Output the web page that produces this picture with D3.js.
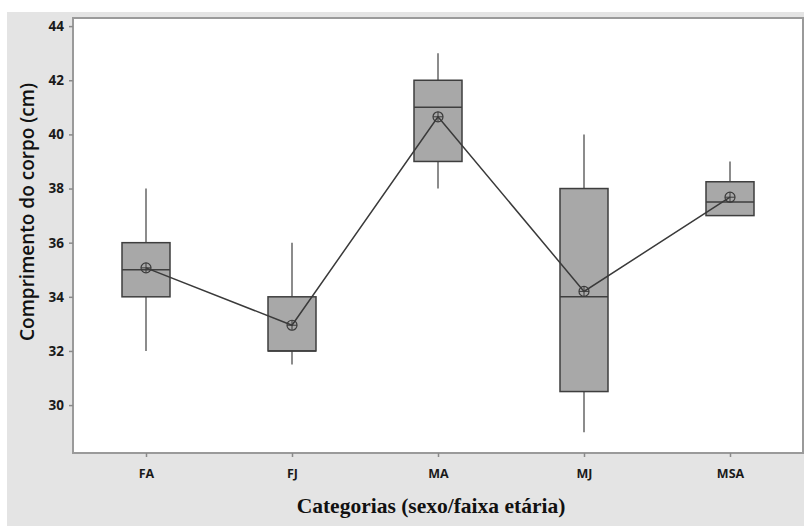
<!DOCTYPE html>
<html>
<head>
<meta charset="utf-8">
<script src="https://cdn.jsdelivr.net/npm/d3@7"></script>
<style>
  body { margin: 0; background: #fff; }
</style>
</head>
<body>
<div id="chart"></div>
<script>
var width = 804
var height = 526
var margin = { top: 18, right: 1, bottom: 73, left: 73 }

// box plot values
var categories = ['FA', 'FJ', 'MA', 'MJ', 'MSA']
var whiskerLow = [32, 31.5, 38, 29, 37]
var q1 = [34, 32, 39, 30.5, 37]
var median = [35, 32, 41, 34, 37.5]
var q3 = [36, 34, 42, 38, 38.25]
var whiskerHigh = [38, 36, 43, 40, 39]
var means = [35.07, 32.95, 40.65, 34.2, 37.68]
var yTicks = [30, 32, 34, 36, 38, 40, 42, 44]

var data = categories.map((c, i) => ({
    cat: c,
    lo: whiskerLow[i],
    q1: q1[i],
    med: median[i],
    q3: q3[i],
    hi: whiskerHigh[i],
    mean: means[i]
}))

var plotWidth = width - margin.left - margin.right
var plotHeight = height - margin.top - margin.bottom

var svg = d3.select('#chart').append('svg')
    .attr('width', width)
    .attr('height', height)

svg.append('rect')
    .attr('x', 7).attr('y', 12)
    .attr('width', width - 7).attr('height', height - 12)
    .attr('fill', '#e4e4e4')

var scaleX = d3.scalePoint().domain(categories).range([0, plotWidth]).padding(0.5)
var scaleY = d3.scaleLinear().domain([28.23, 44.3]).range([plotHeight, 0])

var g = svg.append('g')
    .attr('transform', 'translate(' + margin.left + ',' + margin.top + ')')

g.append('rect')
    .attr('width', plotWidth).attr('height', plotHeight)
    .attr('fill', '#fff')
    .attr('stroke', '#9a9a9a')
    .attr('stroke-width', 2)

var yAxis = g.append('g')
    .call(d3.axisLeft(scaleY).tickValues(yTicks).tickSize(4).tickPadding(5))
yAxis.select('.domain').remove()
yAxis.selectAll('line').attr('stroke', '#8a8a8a').attr('stroke-width', 1.5)
yAxis.selectAll('text')
    .attr('font-family', 'Open Sans, sans-serif')
    .attr('font-size', 13.5)
    .attr('font-weight', 'bold')
    .attr('fill', '#1a1a1a')

var xAxis = g.append('g')
    .attr('transform', 'translate(0,' + plotHeight + ')')
    .call(d3.axisBottom(scaleX).tickSize(4).tickPadding(12))
xAxis.select('.domain').remove()
xAxis.selectAll('line').attr('stroke', '#8a8a8a').attr('stroke-width', 1.5)
xAxis.selectAll('text')
    .attr('font-family', 'Open Sans, sans-serif')
    .attr('font-size', 12.5)
    .attr('font-weight', 'bold')
    .attr('fill', '#1a1a1a')

var boxW = 48
var boxes = g.selectAll('.box').data(data).enter().append('g')
    .attr('class', 'box')
    .attr('transform', d => 'translate(' + scaleX(d.cat) + ',0)')

boxes.append('line')
    .attr('y1', d => scaleY(d.hi)).attr('y2', d => scaleY(d.q3))
    .attr('stroke', '#666').attr('stroke-width', 1.5)
boxes.append('line')
    .attr('y1', d => scaleY(d.q1)).attr('y2', d => scaleY(d.lo))
    .attr('stroke', '#666').attr('stroke-width', 1.5)
boxes.append('rect')
    .attr('x', -boxW / 2)
    .attr('y', d => scaleY(d.q3))
    .attr('width', boxW)
    .attr('height', d => scaleY(d.q1) - scaleY(d.q3))
    .attr('fill', '#a8a8a8')
    .attr('stroke', '#3e3e3e')
    .attr('stroke-width', 1.5)
boxes.append('line')
    .attr('x1', -boxW / 2).attr('x2', boxW / 2)
    .attr('y1', d => scaleY(d.med)).attr('y2', d => scaleY(d.med))
    .attr('stroke', '#3e3e3e').attr('stroke-width', 1.5)

var line = d3.line().x(d => scaleX(d.cat)).y(d => scaleY(d.mean))
g.append('path')
    .datum(data)
    .attr('d', line)
    .attr('fill', 'none')
    .attr('stroke', '#3a3a3a')
    .attr('stroke-width', 1.5)

var marks = g.selectAll('.mean').data(data).enter().append('g')
    .attr('class', 'mean')
    .attr('transform', d => 'translate(' + scaleX(d.cat) + ',' + scaleY(d.mean) + ')')
marks.append('circle').attr('r', 5).attr('fill', 'none').attr('stroke', '#3a3a3a').attr('stroke-width', 1.2)
marks.append('line').attr('x1', -5).attr('x2', 5).attr('stroke', '#3a3a3a').attr('stroke-width', 1)
marks.append('line').attr('y1', -5).attr('y2', 5).attr('stroke', '#3a3a3a').attr('stroke-width', 1)

svg.append('text')
    .attr('x', 431).attr('y', 513)
    .attr('text-anchor', 'middle')
    .attr('font-family', 'Liberation Serif, serif')
    .attr('font-size', 21.5)
    .attr('font-weight', 'bold')
    .attr('fill', '#111')
    .text('Categorias (sexo/faixa etária)')

svg.append('text')
    .attr('transform', 'translate(34,212) rotate(-90)')
    .attr('text-anchor', 'middle')
    .attr('font-family', 'Open Sans, sans-serif')
    .attr('font-size', 19)
    .attr('font-weight', 600)
    .attr('fill', '#111')
    .text('Comprimento do corpo (cm)')
</script>
</body>
</html>
